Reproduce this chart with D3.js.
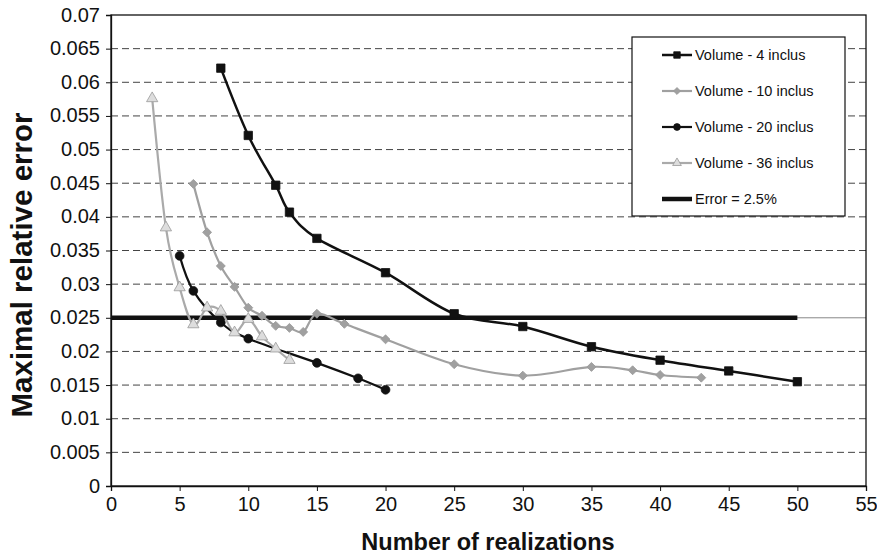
<!DOCTYPE html>
<html>
<head>
<meta charset="utf-8">
<script src="https://cdn.jsdelivr.net/npm/d3@7"></script>
<style>
  body { margin: 0; background: #fff; }
  svg { font-family: "Liberation Sans", Arial, sans-serif; }
</style>
</head>
<body>
<div class="d3-content"></div>
<script>
const SVG_WIDTH = 877;
const SVG_HEIGHT = 558;
const MARGIN = { top: 15, right: 11, bottom: 72, left: 111 };
const CHART_WIDTH = SVG_WIDTH - MARGIN.left - MARGIN.right;
const CHART_HEIGHT = SVG_HEIGHT - MARGIN.top - MARGIN.bottom;

// data
const xVol4 = [8, 10, 12, 13, 15, 20, 25, 30, 35, 40, 45, 50];
const vol4 = [0.0621, 0.0521, 0.0447, 0.0407, 0.0368, 0.0317, 0.0256, 0.0237, 0.0207, 0.0187, 0.0171, 0.0155];

const xVol10 = [6, 7, 8, 9, 10, 11, 12, 13, 14, 15, 17, 20, 25, 30, 35, 38, 40, 43];
const vol10 = [0.0449, 0.0377, 0.0327, 0.0296, 0.0265, 0.0253, 0.0238, 0.0235, 0.0229, 0.0256, 0.0241, 0.0218, 0.0181, 0.0164, 0.0177, 0.0172, 0.0165, 0.0161];

const xVol20 = [5, 6, 8, 10, 15, 18, 20];
const vol20 = [0.0342, 0.0290, 0.0243, 0.0219, 0.0183, 0.0160, 0.0143];

const xVol36 = [3, 4, 5, 6, 7, 8, 9, 10, 11, 12, 13];
const vol36 = [0.0576, 0.0384, 0.0295, 0.0240, 0.0265, 0.0260, 0.0228, 0.0248, 0.0222, 0.0204, 0.0187];

const xError = [0, 50];
const errorLevel = [0.025, 0.025];

const xTicks = [0, 5, 10, 15, 20, 25, 30, 35, 40, 45, 50, 55];
const yTicks = [0, 0.005, 0.01, 0.015, 0.02, 0.025, 0.03, 0.035, 0.04, 0.045, 0.05, 0.055, 0.06, 0.065, 0.07];

const seriesNames = ['Volume - 4 inclus', 'Volume - 10 inclus', 'Volume - 20 inclus', 'Volume - 36 inclus', 'Error = 2.5%'];

const zip = (xs, ys) => xs.map((x, i) => ({ x: x, y: ys[i] }));

const series = [
  { name: seriesNames[0], data: zip(xVol4, vol4), stroke: '#111', width: 2.5, symbol: d3.symbolSquare, size: 70, rot: 0, fill: '#111', mstroke: '#111' },
  { name: seriesNames[1], data: zip(xVol10, vol10), stroke: '#a0a0a0', width: 2.2, symbol: d3.symbolSquare, size: 40, rot: 45, fill: '#a0a0a0', mstroke: '#999' },
  { name: seriesNames[2], data: zip(xVol20, vol20), stroke: '#111', width: 2.2, symbol: d3.symbolCircle, size: 60, rot: 0, fill: '#111', mstroke: '#111' },
  { name: seriesNames[3], data: zip(xVol36, vol36), stroke: '#aaaaaa', width: 2.2, symbol: d3.symbolTriangle, size: 55, rot: 0, fill: '#dddddd', mstroke: '#999' },
];

const svg = d3.select('.d3-content')
  .append('svg')
  .attr('width', SVG_WIDTH)
  .attr('height', SVG_HEIGHT);

const xscale = d3.scaleLinear().domain([0, 55]).range([0, CHART_WIDTH]);
const yscale = d3.scaleLinear().domain([0, 0.07]).range([CHART_HEIGHT, 0]);

const chart = svg.append('g')
  .attr('transform', `translate(${MARGIN.left}, ${MARGIN.top})`);

// gridlines
chart.append('g')
  .selectAll('line')
  .data(yTicks.filter(t => t > 0 && t < 0.07))
  .join('line')
  .attr('x1', 0)
  .attr('x2', CHART_WIDTH)
  .attr('y1', d => yscale(d))
  .attr('y2', d => yscale(d))
  .attr('stroke', d => d === 0.025 ? '#888' : '#444')
  .attr('stroke-width', 1)
  .attr('stroke-dasharray', d => d === 0.025 ? null : '7,4');

// frame
chart.append('rect')
  .attr('width', CHART_WIDTH)
  .attr('height', CHART_HEIGHT)
  .attr('fill', 'none')
  .attr('stroke', '#111')
  .attr('stroke-width', 1.3);

// axes
const xAxis = chart.append('g')
  .attr('transform', `translate(0, ${CHART_HEIGHT})`)
  .call(d3.axisBottom(xscale).tickValues(xTicks).tickSize(5).tickPadding(6).tickFormat(d3.format('d')));

const yAxis = chart.append('g')
  .call(d3.axisLeft(yscale).tickValues(yTicks).tickSize(5).tickPadding(6).tickFormat(d => String(+d.toFixed(3))));

[xAxis, yAxis].forEach(a => {
  a.select('.domain').attr('stroke', '#111').attr('stroke-width', 1.3);
  a.selectAll('.tick line').attr('stroke', '#111');
  a.selectAll('.tick text').attr('font-size', 20).attr('fill', '#111')
    .attr('font-family', '"Liberation Sans", Arial, sans-serif');
});
yAxis.selectAll('.tick text').attr('dy', '0.3em');

// axis titles
svg.append('text')
  .text('Number of realizations')
  .attr('x', 488)
  .attr('y', 550)
  .attr('text-anchor', 'middle')
  .attr('font-size', 23.5)
  .attr('font-weight', 'bold')
  .attr('fill', '#111');

svg.append('text')
  .text('Maximal relative error')
  .attr('transform', 'translate(32, 265) rotate(-90)')
  .attr('text-anchor', 'middle')
  .attr('font-size', 29.5)
  .attr('font-weight', 'bold')
  .attr('fill', '#111');

// error level line
const straight = d3.line()
  .x(d => xscale(d.x))
  .y(d => yscale(d.y));

chart.append('path')
  .datum(zip(xError, errorLevel))
  .attr('d', straight)
  .attr('fill', 'none')
  .attr('stroke', '#111')
  .attr('stroke-width', 4.5);

// smoothed series
const smooth = d3.line()
  .x(d => xscale(d.x))
  .y(d => yscale(d.y))
  .curve(d3.curveCardinal.tension(0));

series.forEach(s => {
  chart.append('path')
    .datum(s.data)
    .attr('d', smooth)
    .attr('fill', 'none')
    .attr('stroke', s.stroke)
    .attr('stroke-width', s.width);

  chart.append('g')
    .selectAll('path')
    .data(s.data)
    .join('path')
    .attr('d', d3.symbol().type(s.symbol).size(s.size))
    .attr('transform', d => `translate(${xscale(d.x)}, ${yscale(d.y)}) rotate(${s.rot})`)
    .attr('fill', s.fill)
    .attr('stroke', s.mstroke)
    .attr('stroke-width', 0.8);
});

// legend
const legend = svg.append('g').attr('transform', 'translate(632, 37)');
legend.append('rect')
  .attr('width', 213)
  .attr('height', 179)
  .attr('fill', '#fff')
  .attr('stroke', '#111')
  .attr('stroke-width', 1.2);

const legendItems = legend.selectAll('g.item')
  .data(seriesNames)
  .join('g')
  .attr('class', 'item')
  .attr('transform', (d, i) => `translate(0, ${18 + i * 36})`);

legendItems.append('line')
  .attr('x1', 30)
  .attr('x2', 60)
  .attr('stroke', (d, i) => i < 4 ? series[i].stroke : '#111')
  .attr('stroke-width', (d, i) => i < 4 ? series[i].width : 4.5);

legendItems.filter((d, i) => i < 4)
  .append('path')
  .attr('d', (d, i) => d3.symbol().type(series[i].symbol).size(series[i].size * 0.6)())
  .attr('transform', (d, i) => `translate(45, 0) rotate(${series[i].rot})`)
  .attr('fill', (d, i) => series[i].fill)
  .attr('stroke', (d, i) => series[i].mstroke)
  .attr('stroke-width', 0.8);

legendItems.append('text')
  .text(d => d)
  .attr('x', 63)
  .attr('dy', '0.35em')
  .attr('font-size', 14.5)
  .attr('fill', '#111');
</script>
</body>
</html>
